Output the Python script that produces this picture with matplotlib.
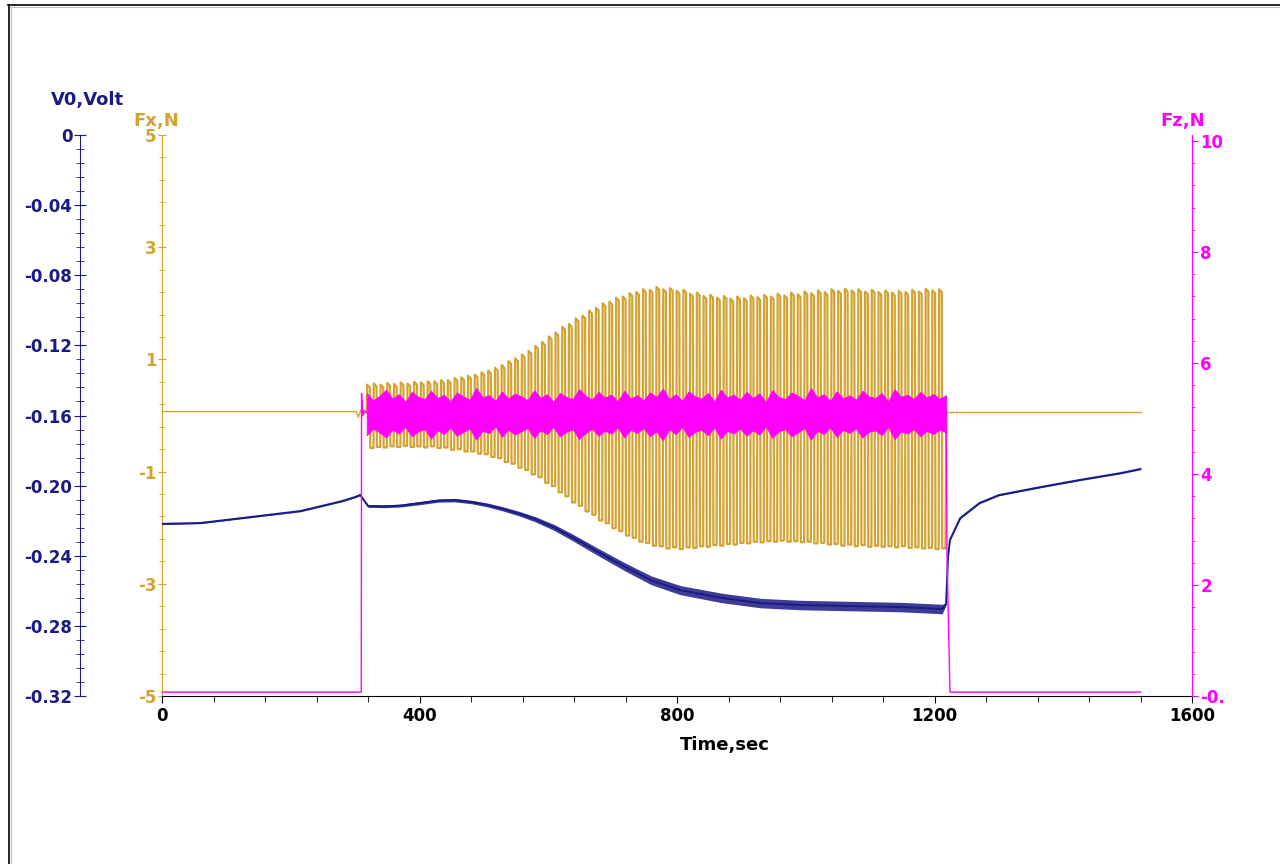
import numpy as np
import matplotlib
matplotlib.use('Agg')
import matplotlib.pyplot as plt
from matplotlib.lines import Line2D
from matplotlib.ticker import FixedLocator, FuncFormatter, FixedFormatter

plt.rcParams['font.family'] = ['DejaVu Sans']
plt.rcParams['font.weight'] = 'bold'
plt.rcParams['font.size'] = 12
plt.rcParams['axes.unicode_minus'] = False

NAVY = '#1b1b86'
GOLD = '#d3a332'
MAGENTA = '#ff00ff'

# V0, Volt (navy trace), centre line and half height of the ripple
v0_t = [0, 60, 140, 215, 280, 300, 308, 312, 320, 345, 370, 400, 430, 455, 480,
        505, 530, 555, 580, 610, 640, 680, 720, 760, 805, 870, 930, 990, 1070,
        1150, 1212, 1218, 1221, 1224, 1240, 1270, 1300, 1365, 1425, 1490, 1520]
v0_val = [-0.2218, -0.2213, -0.2178, -0.2145, -0.2088, -0.2065, -0.2053, -0.2075,
          -0.2116, -0.2118, -0.2114, -0.2100, -0.2085, -0.2083, -0.2093, -0.2110,
          -0.2133, -0.2160, -0.2192, -0.2240, -0.2300, -0.2384, -0.2465, -0.2540,
          -0.2596, -0.2641, -0.2670, -0.2681, -0.2687, -0.2693, -0.2704, -0.2675,
          -0.2408, -0.2310, -0.2185, -0.2099, -0.2054, -0.2008, -0.1968, -0.1928,
          -0.1905]
v0_ripple = [0.0004, 0.0004, 0.0004, 0.0004, 0.0004, 0.0004, 0.0004, 0.0006,
             0.0008, 0.0008, 0.0008, 0.0009, 0.0009, 0.0010, 0.0010, 0.0011,
             0.0012, 0.0013, 0.0015, 0.0017, 0.0019, 0.0021, 0.0023, 0.0025,
             0.0026, 0.0027, 0.0027, 0.0027, 0.0027, 0.0027, 0.0027, 0.0006,
             0.0004, 0.0004, 0.0004, 0.0004, 0.0004, 0.0004, 0.0004, 0.0004,
             0.0004]

# Fx, N (gold trace): rest level, then one peak / trough per stroke
fx_rest = 0.07
fx_pre_t = [0, 302, 305, 309, 313, 316, 318]
fx_pre_val = [0.07, 0.07, -0.03, 0.10, 0.02, 0.07, 0.07]
fx_start, fx_end, fx_stop = 318, 1217, 1520
fx_peaks = [0.55, 0.57, 0.55, 0.58, 0.56, 0.59, 0.57, 0.60, 0.59, 0.61,
            0.61, 0.63, 0.63, 0.67, 0.68, 0.71, 0.73, 0.77, 0.80, 0.85,
            0.90, 0.97, 1.02, 1.09, 1.15, 1.24, 1.31, 1.41, 1.48, 1.58,
            1.63, 1.73, 1.78, 1.87, 1.92, 2.00, 2.03, 2.10, 2.12, 2.18,
            2.20, 2.25, 2.24, 2.29, 2.25, 2.27, 2.22, 2.24, 2.17, 2.19,
            2.13, 2.15, 2.10, 2.13, 2.08, 2.12, 2.09, 2.14, 2.11, 2.15,
            2.12, 2.17, 2.14, 2.19, 2.16, 2.21, 2.18, 2.23, 2.20, 2.25,
            2.22, 2.26, 2.23, 2.25, 2.21, 2.24, 2.20, 2.23, 2.19, 2.22,
            2.20, 2.24, 2.21, 2.26, 2.23, 2.25]
fx_troughs = [-0.58, -0.56, -0.57, -0.55, -0.56, -0.54, -0.56, -0.55, -0.57, -0.55,
              -0.58, -0.57, -0.61, -0.60, -0.64, -0.64, -0.68, -0.69, -0.74, -0.76,
              -0.83, -0.86, -0.93, -0.97, -1.05, -1.10, -1.20, -1.26, -1.37, -1.44,
              -1.55, -1.61, -1.71, -1.77, -1.87, -1.92, -2.01, -2.06, -2.14, -2.18,
              -2.25, -2.27, -2.32, -2.33, -2.37, -2.35, -2.38, -2.35, -2.36, -2.33,
              -2.34, -2.31, -2.32, -2.29, -2.30, -2.27, -2.28, -2.25, -2.26, -2.24,
              -2.25, -2.23, -2.25, -2.24, -2.26, -2.25, -2.28, -2.27, -2.30, -2.29,
              -2.32, -2.30, -2.33, -2.31, -2.34, -2.32, -2.34, -2.33, -2.35, -2.33,
              -2.36, -2.35, -2.37, -2.36, -2.38, -2.37]

# Fz, N (magenta trace): rest level, spike, then the noisy band
fz_pre_t = [0, 309.5, 310, 311.5, 314, 318]
fz_pre_val = [0.07, 0.07, 5.45, 5.05, 5.15, 5.10]
fz_band_t = list(range(318, 1219, 10))
fz_band_hi = [5.46, 5.33, 5.41, 5.52, 5.36, 5.44, 5.30, 5.48, 5.39, 5.35,
              5.50, 5.37, 5.43, 5.31, 5.47, 5.40, 5.34, 5.55, 5.38, 5.42,
              5.32, 5.49, 5.36, 5.45, 5.40, 5.33, 5.51, 5.37, 5.44, 5.30,
              5.46, 5.39, 5.35, 5.53, 5.41, 5.34, 5.48, 5.38, 5.43, 5.31,
              5.50, 5.36, 5.42, 5.33, 5.47, 5.39, 5.54, 5.35, 5.44, 5.32,
              5.49, 5.40, 5.36, 5.46, 5.31, 5.52, 5.38, 5.43, 5.34, 5.48,
              5.37, 5.45, 5.30, 5.51, 5.39, 5.35, 5.47, 5.41, 5.33, 5.55,
              5.38, 5.44, 5.32, 5.49, 5.36, 5.42, 5.34, 5.50, 5.40, 5.37,
              5.46, 5.31, 5.53, 5.39, 5.43, 5.35, 5.48, 5.38, 5.44, 5.36, 5.42]
fz_band_lo = [4.70, 4.82, 4.75, 4.66, 4.80, 4.73, 4.85, 4.68, 4.77, 4.81,
              4.64, 4.79, 4.72, 4.84, 4.69, 4.76, 4.82, 4.62, 4.78, 4.74,
              4.86, 4.67, 4.80, 4.71, 4.77, 4.83, 4.65, 4.79, 4.72, 4.85,
              4.68, 4.76, 4.81, 4.63, 4.74, 4.82, 4.69, 4.78, 4.73, 4.84,
              4.66, 4.80, 4.74, 4.83, 4.68, 4.77, 4.61, 4.81, 4.72, 4.85,
              4.67, 4.76, 4.80, 4.70, 4.84, 4.64, 4.78, 4.73, 4.82, 4.69,
              4.79, 4.71, 4.86, 4.65, 4.77, 4.81, 4.68, 4.75, 4.83, 4.62,
              4.78, 4.72, 4.84, 4.67, 4.80, 4.74, 4.82, 4.66, 4.76, 4.79,
              4.70, 4.85, 4.63, 4.77, 4.73, 4.81, 4.68, 4.78, 4.72, 4.80, 4.75]
fz_post_t = [1218, 1219.5, 1224, 1520]
fz_post_val = [4.90, 2.5, 0.07, 0.07]

# build the Fx stroke line from the per-stroke peaks / troughs
period = (fx_end - fx_start) / len(fx_peaks)
fx_t = []
fx_y = []
prev = fx_rest
for k in range(len(fx_peaks)):
    t0 = fx_start + k * period
    fx_t += [t0, t0 + 0.06 * period, t0 + 0.46 * period, t0 + 0.52 * period]
    fx_y += [prev, fx_peaks[k], fx_peaks[k] - 0.05, fx_troughs[k]]
    prev = fx_troughs[k]
fx_t += [fx_end, fx_end + 1.5]
fx_y += [prev, fx_rest]

W, H = 1280, 864
fig = plt.figure(figsize=(12.8, 8.64), dpi=100)
ax = fig.add_axes([162 / W, 1 - 696 / H, 1030 / W, 561 / H])
ax_v = ax.twinx()
ax_z = ax.twinx()

# Fx
ax.plot(fx_pre_t, fx_pre_val, color=GOLD, lw=1.0)
ax.plot(fx_t, fx_y, color=GOLD, lw=1.6)
ax.plot([fx_end + 1.5, fx_stop], [fx_rest, fx_rest], color=GOLD, lw=1.0)
ax.set_xlim(0, 1600)
ax.set_ylim(-5, 5)
for s in ['top', 'right']:
    ax.spines[s].set_visible(False)
ax.spines['left'].set_color(GOLD)
ax.spines['bottom'].set_color('black')
ax.xaxis.set_major_locator(FixedLocator([0, 400, 800, 1200, 1600]))
ax.xaxis.set_minor_locator(FixedLocator(np.arange(0, 1601, 80)))
ax.tick_params(axis='x', which='major', direction='out', length=5, pad=3, labelsize=12)
ax.tick_params(axis='x', which='minor', direction='out', length=4)
ax.yaxis.set_major_locator(FixedLocator([-5, -3, -1, 1, 3, 5]))
ax.yaxis.set_minor_locator(FixedLocator(np.arange(-5, 5.01, 0.4)))
ax.tick_params(axis='y', which='both', direction='inout', colors=GOLD, labelcolor=GOLD)
ax.tick_params(axis='y', which='major', length=6, pad=1, labelsize=12)
ax.tick_params(axis='y', which='minor', length=4)

# V0
ax_v.fill_between(v0_t, np.array(v0_val) - np.array(v0_ripple),
                  np.array(v0_val) + np.array(v0_ripple), color=NAVY, lw=0, alpha=0.85)
ax_v.plot(v0_t, v0_val, color=NAVY, lw=1.4)
ax_v.set_ylim(-0.32, 0)
ax_v.yaxis.tick_left()
for s in ['top', 'right', 'bottom']:
    ax_v.spines[s].set_visible(False)
ax_v.spines['left'].set_visible(True)
ax_v.spines['left'].set_position(('axes', -82 / 1030))
ax_v.spines['left'].set_color(NAVY)
ax_v.yaxis.set_major_locator(FixedLocator(np.arange(-0.32, 0.001, 0.04)))
ax_v.yaxis.set_minor_locator(FixedLocator(np.arange(-0.32, 0.001, 0.008)))
ax_v.yaxis.set_major_formatter(FuncFormatter(lambda v, p: '0' if abs(v) < 1e-9 else f'{v:.2f}'))
ax_v.tick_params(axis='y', which='both', direction='inout', colors=NAVY, labelcolor=NAVY)
ax_v.tick_params(axis='y', which='major', length=9, pad=1, labelsize=12)
ax_v.tick_params(axis='y', which='minor', length=6)

# Fz
ax_z.plot(fz_pre_t, fz_pre_val, color=MAGENTA, lw=1.0)
ax_z.fill_between(fz_band_t, fz_band_lo, fz_band_hi, color=MAGENTA, lw=0.6)
ax_z.plot(fz_post_t, fz_post_val, color=MAGENTA, lw=1.0)
ax_z.set_ylim(0, 10.11)
for s in ['top', 'left', 'bottom']:
    ax_z.spines[s].set_visible(False)
ax_z.spines['right'].set_color(MAGENTA)
ax_z.yaxis.set_major_locator(FixedLocator([0, 2, 4, 6, 8, 10]))
ax_z.yaxis.set_major_formatter(FixedFormatter(['-0.', '2', '4', '6', '8', '10']))
ax_z.yaxis.set_minor_locator(FixedLocator(np.arange(0, 10.01, 0.4)))
ax_z.tick_params(axis='y', which='both', direction='out', colors=MAGENTA, labelcolor=MAGENTA)
ax_z.tick_params(axis='y', which='major', length=4, pad=2, labelsize=12)
ax_z.tick_params(axis='y', which='minor', length=2)

# axis titles
fig.text(87 / W, 1 - 100 / H, 'V0,Volt', color=NAVY, fontsize=13, fontweight='bold',
         ha='center', va='center')
fig.text(156 / W, 1 - 121 / H, 'Fx,N', color=GOLD, fontsize=13, fontweight='bold',
         ha='center', va='center')
fig.text(1183 / W, 1 - 121 / H, 'Fz,N', color=MAGENTA, fontsize=13, fontweight='bold',
         ha='center', va='center')
fig.text(725 / W, 1 - 745 / H, 'Time,sec', color='black', fontsize=13, fontweight='bold',
         ha='center', va='center')

# window frame (top and left edges)
fig.add_artist(Line2D([8 / W, 1], [1 - 4.5 / H, 1 - 4.5 / H], color='black', lw=1.2,
                      transform=fig.transFigure))
fig.add_artist(Line2D([8.5 / W, 8.5 / W], [0, 1 - 4.5 / H], color='black', lw=1.2,
                      transform=fig.transFigure))
fig.add_artist(Line2D([10 / W, 1], [1 - 6.5 / H, 1 - 6.5 / H], color='#c0c0c0', lw=0.8,
                      transform=fig.transFigure))
fig.add_artist(Line2D([10.5 / W, 10.5 / W], [0, 1 - 6.5 / H], color='#c0c0c0', lw=0.8,
                      transform=fig.transFigure))

fig.savefig('out.png', dpi=100)
